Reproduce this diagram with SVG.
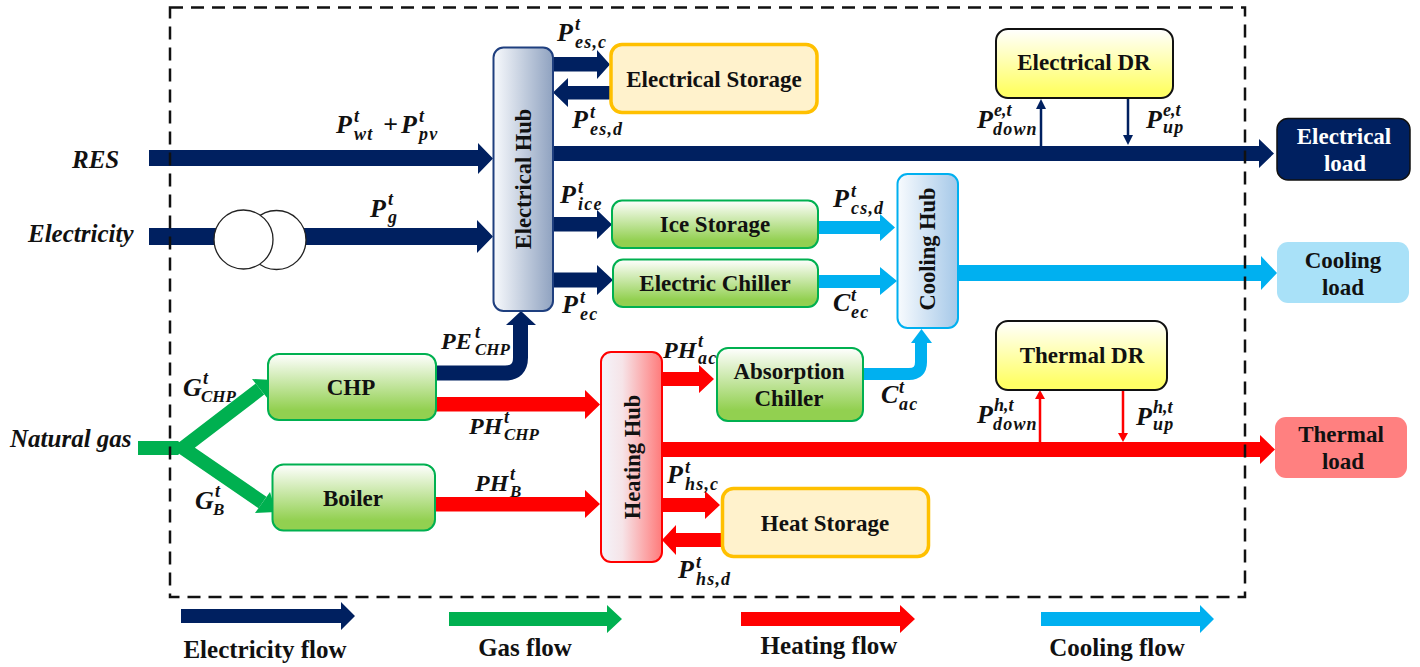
<svg xmlns="http://www.w3.org/2000/svg" width="1420" height="667" viewBox="0 0 1420 667">
<style>
text{font-family:"Liberation Serif","Times New Roman",serif;font-weight:bold;fill:#111}
.t{font-size:23px;text-anchor:middle}
.n{font-size:22.500px;text-anchor:middle}
.l{font-size:25px;text-anchor:middle}
.i{font-size:25px;font-style:italic}
.m{font-size:26px;font-style:italic}
.p{font-size:24px;font-style:italic}
.u{font-size:18px;font-style:italic}
.b{font-size:18px;font-style:italic;letter-spacing:1.200px}
.k{font-size:17px;font-style:italic}
.e{fill:#002060}.g{fill:#00b050}.h{fill:#ff0000}.c{fill:#00b0f0}
.gb{fill:url(#green);stroke:#00b050;stroke-width:2}
.st{fill:#fff2cc;stroke:#ffc000;stroke-width:3.5}
.dr{fill:url(#yellow);stroke:#111;stroke-width:2}
</style>
<defs>
<linearGradient id="green" x1="0" y1="0" x2="0" y2="1"><stop offset="0" stop-color="#fff"/><stop offset=".85" stop-color="#92d050"/><stop offset="1" stop-color="#92d050"/></linearGradient>
<linearGradient id="yellow" x1="0" y1="0" x2="0" y2="1"><stop offset="0" stop-color="#fff"/><stop offset=".9" stop-color="#ffff66"/><stop offset="1" stop-color="#ffff66"/></linearGradient>
<linearGradient id="ehub"><stop offset="0" stop-color="#f8fafd"/><stop offset="1" stop-color="#8fa2c0"/></linearGradient>
<linearGradient id="hhub"><stop offset="0" stop-color="#f4f4fa"/><stop offset=".35" stop-color="#f6e4e8"/><stop offset="1" stop-color="#ff7a7a"/></linearGradient>
<linearGradient id="chub"><stop offset="0" stop-color="#f8fbfe"/><stop offset="1" stop-color="#a5c8e8"/></linearGradient>
</defs>

<g id="connectors">
<path class="e" d="M149 150H478V143L493 158.500 478 174V166H149Z"/>
<path class="e" d="M149 228H477V220L493 236.500 477 253V245H149Z"/>
<path class="e" d="M553 57H597V50L610 64.500 597 79V71.500H553Z"/>
<path class="e" d="M610 86H568V78L553 92.500 568 107V99.500H610Z"/>
<path class="e" d="M553 146H1259V139L1274 153.500 1259 168V161H553Z"/>
<path class="e" d="M553 217H597V210L612 224.500 597 239V231.500H553Z"/>
<path class="e" d="M553 272.500H597V265L613 280 597 295V287.500H553Z"/>
<path d="M436 373H505Q520.500 373 520.500 357.500V322" fill="none" stroke="#002060" stroke-width="15"/>
<path class="e" d="M506 325L521 311 536 325Z"/>
<path class="h" d="M436 397H585V390L600 404.500 585 419V411.500H436Z"/>
<path class="h" d="M435 497H585V490L600 504 585 518V511.500H435Z"/>
<path class="h" d="M662 372H699V365L714 379 699 393V386H662Z"/>
<path class="h" d="M662 442H1260V435L1275 449.500 1260 464V457H662Z"/>
<path class="h" d="M662 498H705V491L720 505 705 519V512H662Z"/>
<path class="h" d="M722 533H676V525L662 540 676 555V547H722Z"/>
<path class="c" d="M818 221H880V214L895 227.500 880 241V234H818Z"/>
<path class="c" d="M818 275H880V267L897 281 880 295V288H818Z"/>
<path d="M863 374H909Q921 374 921 362V340" fill="none" stroke="#00b0f0" stroke-width="12"/>
<path class="c" d="M911 343L921.500 329 932 343Z"/>
<path class="c" d="M958 265H1261V256L1277 273 1261 290V281H958Z"/>
<path d="M183 448L260 389M183 448L262.500 502.500" fill="none" stroke="#00b050" stroke-width="14"/>
<path d="M138 441H178L186 448 178 455H138Z" class="g"/>
<path class="g" d="M252 379L273 380 268 399Z"/>
<path class="g" d="M270 492L276 512 255 513Z"/>
<path d="M1041 146V106M1128 98V137" stroke="#002060" stroke-width="2.500" fill="none"/>
<path class="e" d="M1036 109L1041 99 1046 109Z"/>
<path class="e" d="M1123 135L1128 145 1133 135Z"/>
<path d="M1040 442V398M1123 390V434" stroke="#ff0000" stroke-width="2.500" fill="none"/>
<path class="h" d="M1035 399L1040 390 1045 399Z"/>
<path class="h" d="M1118 433L1123 442 1128 433Z"/>
<path class="e" d="M181 609H341V602L355 616 341 630V623H181Z"/>
<path class="g" d="M449 612H607V605L622 619 607 633V626H449Z"/>
<path class="h" d="M741 612H900V605L915 619 900 633V626H741Z"/>
<path class="c" d="M1041 612H1200V605L1214 619 1200 633V626H1041Z"/>
</g>

<rect id="boundary" x="170" y="7.500" width="1075" height="589.500" fill="none" stroke="#111" stroke-width="2.500" stroke-dasharray="13 8"/>

<g id="transformer" fill="#fff" stroke="#222" stroke-width="1.300">
<circle cx="276.500" cy="240" r="29.500"/>
<circle cx="243.500" cy="239.500" r="29.500"/>
</g>

<g id="electrical-hub"><rect x="493.500" y="47.500" width="59.500" height="263.500" rx="10" fill="url(#ehub)" stroke="#1f3f7f" stroke-width="2"/><text class="n" transform="translate(531 179) rotate(-90)">Electrical Hub</text></g>
<g id="electrical-storage"><rect class="st" x="611" y="44.500" width="206" height="68" rx="11"/><text class="t" x="714" y="87">Electrical Storage</text></g>
<g id="ice-storage"><rect class="gb" x="612" y="200.500" width="206" height="47.500" rx="10"/><text class="t" x="715" y="232">Ice Storage</text></g>
<g id="electric-chiller"><rect class="gb" x="613" y="259.500" width="205" height="47.500" rx="10"/><text class="t" x="715" y="291">Electric Chiller</text></g>
<g id="cooling-hub"><rect x="897.500" y="174" width="60.500" height="154" rx="10" fill="url(#chub)" stroke="#00b0f0" stroke-width="2"/><text class="n" transform="translate(935 249) rotate(-90)">Cooling Hub</text></g>
<g id="chp"><rect class="gb" x="268" y="354" width="168" height="66" rx="11"/><text class="t" x="351" y="395">CHP</text></g>
<g id="boiler"><rect class="gb" x="272.500" y="464.500" width="162.500" height="66" rx="11"/><text class="t" x="353" y="506">Boiler</text></g>
<g id="heating-hub"><rect x="601" y="352" width="61" height="210" rx="10" fill="url(#hhub)" stroke="#ff0000" stroke-width="2"/><text class="n" transform="translate(640 457) rotate(-90)">Heating Hub</text></g>
<g id="absorption-chiller"><rect class="gb" x="717" y="348" width="146" height="73" rx="11"/><text class="t" x="789" y="379">Absorption</text><text class="t" x="789" y="406">Chiller</text></g>
<g id="heat-storage"><rect class="st" x="722.500" y="488.500" width="206" height="68" rx="11"/><text class="t" x="825" y="531">Heat Storage</text></g>
<g id="electrical-dr"><rect class="dr" x="996" y="29" width="177" height="69" rx="12"/><text class="t" x="1084" y="70">Electrical DR</text></g>
<g id="thermal-dr"><rect class="dr" x="996" y="321" width="171" height="69" rx="12"/><text class="t" x="1082" y="363">Thermal DR</text></g>
<g id="electrical-load"><rect x="1277" y="118.500" width="133" height="61.500" rx="11" fill="#002060" stroke="#111" stroke-width="1.500"/><text class="t" x="1344" y="144" style="fill:#fff">Electrical</text><text class="t" x="1345" y="171" style="fill:#fff">load</text></g>
<g id="cooling-load"><rect x="1277" y="242" width="132" height="61" rx="11" fill="#a9e1f8"/><text class="t" x="1343" y="268">Cooling</text><text class="t" x="1343" y="295">load</text></g>
<g id="thermal-load"><rect x="1275" y="417" width="132" height="61" rx="11" fill="#ff8080"/><text class="t" x="1341" y="442">Thermal</text><text class="t" x="1343" y="469">load</text></g>

<g id="sources">
<text class="i" x="72" y="168">RES</text>
<text class="i" x="28" y="242">Electricity</text>
<text class="i" x="10" y="447">Natural gas</text>
</g>

<g id="labels">
<text class="m" x="336" y="133">P</text><text class="u" x="354" y="122">t</text><text class="b" x="354" y="140">wt</text>
<text class="m" x="383" y="133">+</text><text class="m" x="401" y="133">P</text><text class="u" x="419" y="122">t</text><text class="b" x="419" y="140">pv</text>
<text class="m" x="370" y="217">P</text><text class="u" x="388" y="205">t</text><text class="b" x="388" y="223">g</text>
<text class="m" x="557" y="41">P</text><text class="u" x="575" y="30">t</text><text class="b" x="575" y="48">es,c</text>
<text class="m" x="572" y="128">P</text><text class="u" x="590" y="118">t</text><text class="b" x="590" y="135">es,d</text>
<text class="m" x="560" y="203">P</text><text class="u" x="578" y="193">t</text><text class="b" x="578" y="210">ice</text>
<text class="m" x="562" y="313">P</text><text class="u" x="580" y="303">t</text><text class="b" x="580" y="320">ec</text>
<text class="m" x="833" y="207">P</text><text class="u" x="851" y="197">t</text><text class="b" x="851" y="214">cs,d</text>
<text class="m" x="833" y="311">C</text><text class="u" x="851" y="301">t</text><text class="b" x="851" y="318">ec</text>
<text class="p" x="441" y="349">PE</text><text class="u" x="475" y="338">t</text><text class="k" x="475" y="355">CHP</text>
<text class="p" x="469" y="434">PH</text><text class="u" x="504" y="423">t</text><text class="k" x="504" y="440">CHP</text>
<text class="p" x="663" y="358">PH</text><text class="u" x="698" y="347">t</text><text class="b" x="698" y="364">ac</text>
<text class="m" x="881" y="403">C</text><text class="u" x="899" y="393">t</text><text class="b" x="899" y="410">ac</text>
<text class="p" x="475" y="491">PH</text><text class="u" x="510" y="480">t</text><text class="k" x="510" y="497">B</text>
<text class="m" x="667" y="483">P</text><text class="u" x="685" y="473">t</text><text class="b" x="685" y="490">hs,c</text>
<text class="m" x="678" y="578">P</text><text class="u" x="696" y="568">t</text><text class="b" x="696" y="585">hs,d</text>
<text class="m" x="183" y="396">G</text><text class="u" x="203" y="384">t</text><text class="k" x="201" y="402">CHP</text>
<text class="m" x="195" y="509">G</text><text class="u" x="215" y="497">t</text><text class="k" x="213" y="515">B</text>
<text class="m" x="977" y="128">P</text><text class="u" x="994" y="116">e,t</text><text class="b" x="993" y="135">down</text>
<text class="m" x="1146" y="128">P</text><text class="u" x="1163" y="116">e,t</text><text class="b" x="1163" y="133">up</text>
<text class="m" x="977" y="423">P</text><text class="u" x="994" y="411">h,t</text><text class="b" x="993" y="430">down</text>
<text class="m" x="1136" y="425">P</text><text class="u" x="1153" y="413">h,t</text><text class="b" x="1153" y="430">up</text>
</g>

<g id="legend">
<text class="l" x="265" y="658">Electricity flow</text>
<text class="l" x="525" y="656">Gas flow</text>
<text class="l" x="829" y="654">Heating flow</text>
<text class="l" x="1117" y="656">Cooling flow</text>
</g>
</svg>
